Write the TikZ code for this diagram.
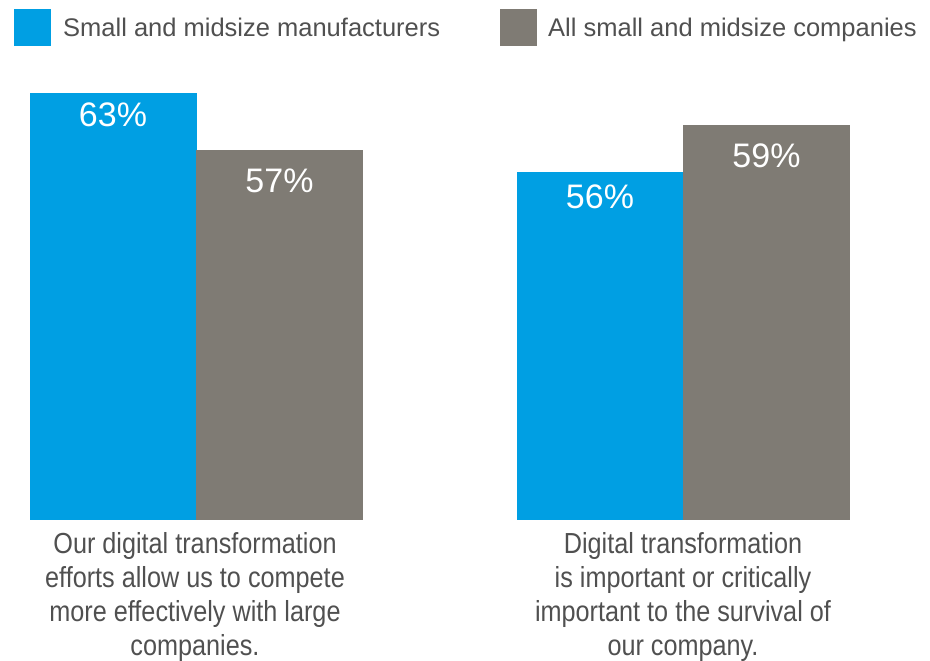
\documentclass[tikz,border=0pt]{standalone}
\usepackage{fontspec}
\setmainfont{Liberation Sans}
\newfontfamily\condfont[FakeStretch=0.87]{Liberation Sans}
\definecolor{barblue}{HTML}{009FE3}
\definecolor{bargray}{HTML}{7F7B74}
\definecolor{txtgray}{HTML}{505050}
\begin{document}
\begin{tikzpicture}[x=1pt,y=-1pt,
  legtext/.style={anchor=base west,inner sep=0pt,text=txtgray,font=\fontsize{25.5}{30}\selectfont},
  pct/.style={anchor=base,inner sep=0pt,text=white,font=\fontsize{34}{40}\selectfont},
  caption/.style={anchor=north,inner sep=0pt,align=center,text=txtgray,font=\condfont\fontsize{29}{34}\selectfont}]
\useasboundingbox (0,0) rectangle (930,661);
% legend
\fill[barblue] (14,9) rectangle (51,46);
\node[legtext] (l1) at (63,37) {Small and midsize manufacturers};
\fill[bargray] (500,9) rectangle (537,46);
\node[legtext] (l2) at (548,37) {All small and midsize companies};
% bars group 1
\fill[barblue] (30,93) rectangle (196.5,520);
\fill[bargray] (196,150) rectangle (363,520);
\node[pct] (p1) at (113,126) {63\%};
\node[pct] (p2) at (279.5,192) {57\%};
% bars group 2
\fill[barblue] (517,172) rectangle (683.5,520);
\fill[bargray] (683,125) rectangle (850,520);
\node[pct] (p3) at (600,208) {56\%};
\node[pct] (p4) at (766.5,167) {59\%};
% captions
\node[caption] (c1) at (195,532) {Our digital transformation\\efforts allow us to compete\\more effectively with large\\companies.};
\node[caption] (c2) at (683,532) {Digital transformation\\is important or critically\\important to the survival of\\our company.};
\end{tikzpicture}
\end{document}
